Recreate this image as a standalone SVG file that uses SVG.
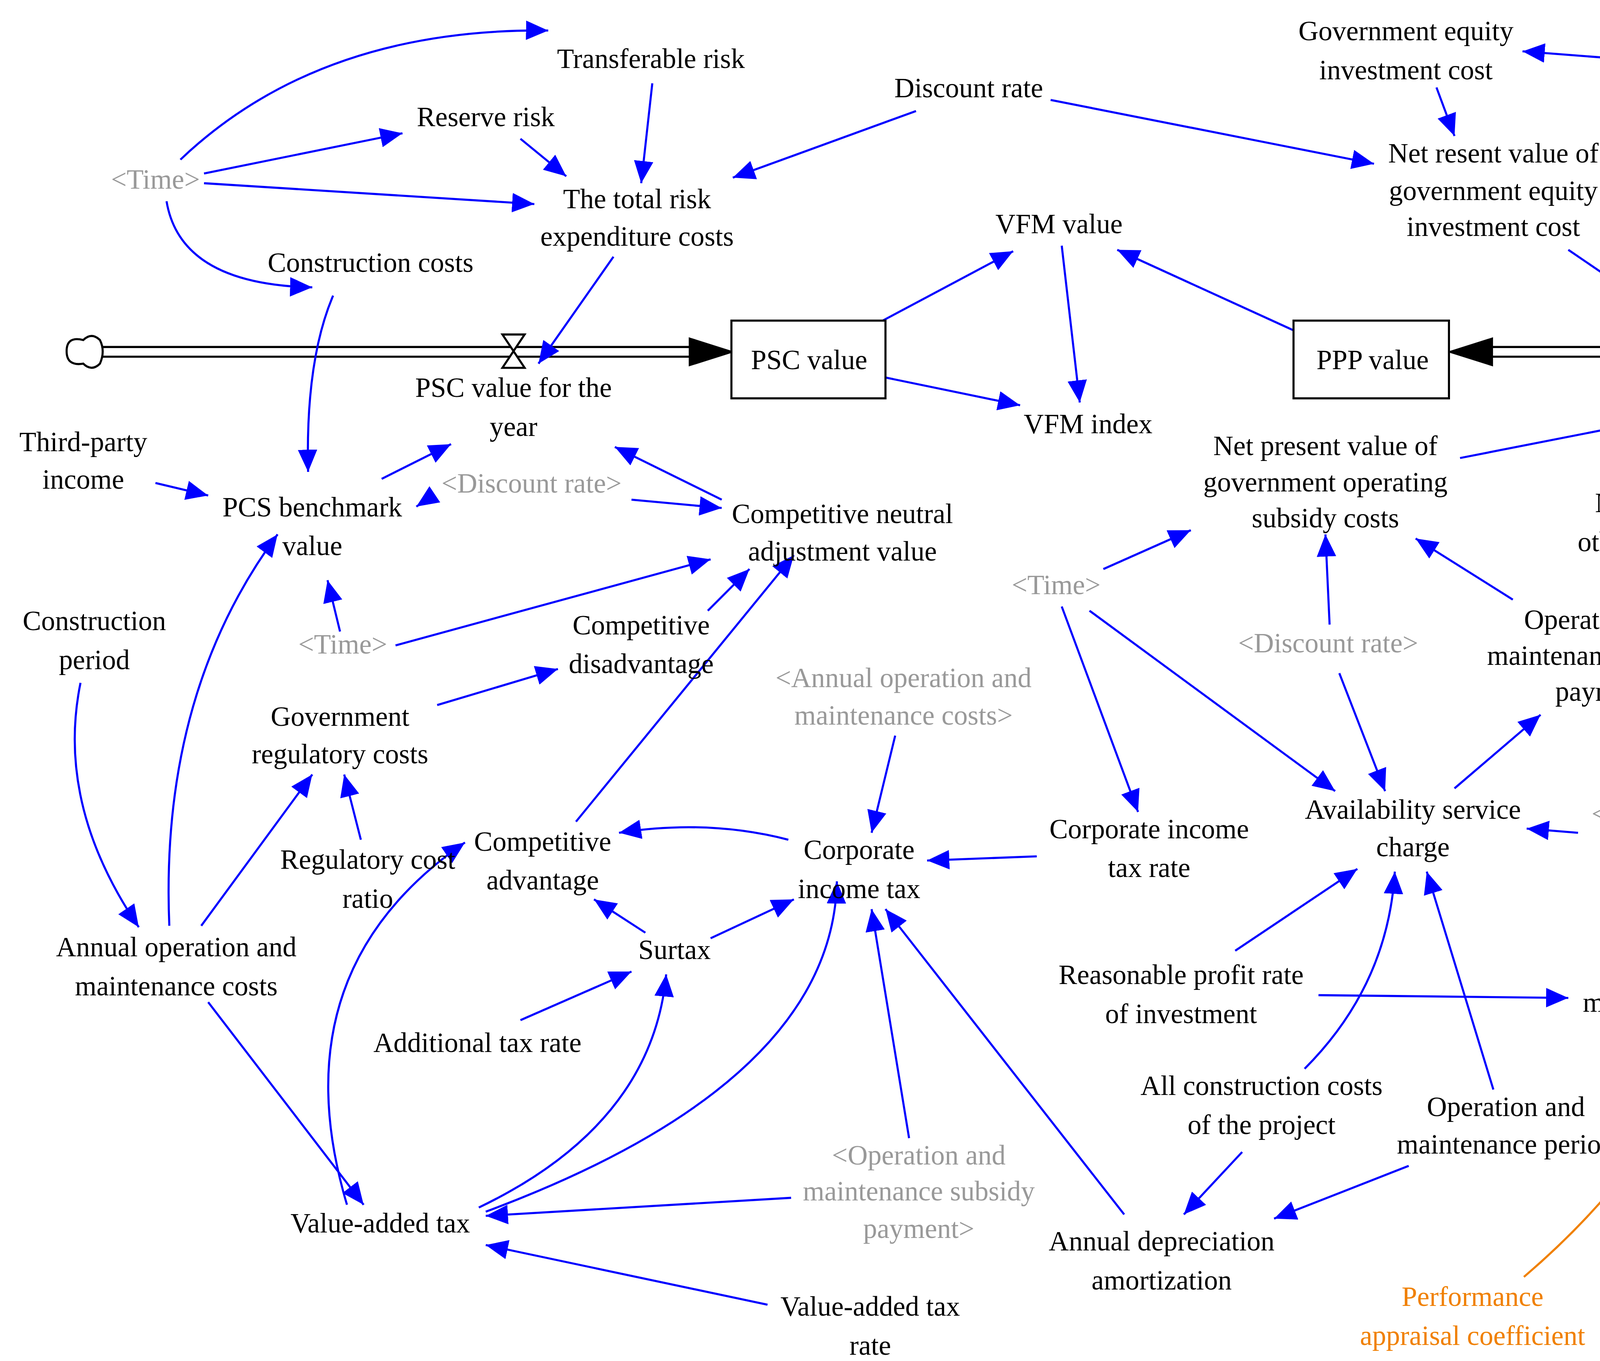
<svg xmlns="http://www.w3.org/2000/svg" width="5553" height="3484" viewBox="0 0 5553 3484">
<style>
text{font-family:"Liberation Serif","Times New Roman",serif;font-size:20px;text-anchor:middle;fill:#000}
.g{fill:#999}
.o{fill:#f08000}
.c path,.c line{fill:none;stroke:#0000ff;stroke-width:1.5}
.box{fill:#fff;stroke:#000;stroke-width:1.5}
</style>
<defs>
<marker id="a" markerUnits="userSpaceOnUse" markerWidth="18" markerHeight="14" refX="16" refY="7" orient="auto"><path d="M0,0 L16,7 L0,14 Z" fill="#0000ff"/></marker>
<marker id="ao" markerUnits="userSpaceOnUse" markerWidth="18" markerHeight="14" refX="16" refY="7" orient="auto"><path d="M0,0 L16,7 L0,14 Z" fill="#f08000"/></marker>
</defs>
<rect width="5553" height="3484" fill="#fff"/>
<g transform="scale(3.553)">
<g id="flows" fill="none" stroke="#000" stroke-width="1.5">
<path d="M74,250 H497 M74,257 H497"/>
<path d="M497,244 L527,253.5 L497,263 Z" fill="#000"/>
<path d="M1518,250 H1075 M1518,257 H1075"/>
<path d="M1075,244 L1045,253.5 L1075,263 Z" fill="#000"/>
<path d="M362,241 H378 L362,265 H378 Z" fill="#fff"/>
<path d="M1275,241 H1291 L1275,265 H1291 Z" fill="#fff"/>
<path d="M60,245 q-12,-3 -12,8 q0,11 12,9 q6,6 12,0 q4,-9 0,-17 q-6,-6 -12,0 Z" fill="#fff"/>
<path d="M1532,245 q-12,-3 -12,8 q0,11 12,9 q6,6 12,0 q4,-9 0,-17 q-6,-6 -12,0 Z" fill="#fff"/>
</g>
<g class="c" id="connectors">
<path marker-end="url(#a)" d="M130,115 Q230,20 395,22"/>
<path marker-end="url(#a)" d="M147,125 L290,96"/>
<path marker-end="url(#a)" d="M147,132 L385,147"/>
<path marker-end="url(#a)" d="M120,145 Q130,205 225,207"/>
<path marker-end="url(#a)" d="M470,60 L462,132"/>
<path marker-end="url(#a)" d="M375,100 L408,127"/>
<path marker-end="url(#a)" d="M660,80 L528,128"/>
<path marker-end="url(#a)" d="M757,72 L990,118"/>
<path marker-end="url(#a)" d="M442,185 L388,262"/>
<path marker-end="url(#a)" d="M240,213 Q220,260 222,340"/>
<path marker-end="url(#a)" d="M1240,48 L1097,37"/>
<path marker-end="url(#a)" d="M1035,63 L1048,98"/>
<path marker-end="url(#a)" d="M1240,65 L1160,99"/>
<path marker-end="url(#a)" d="M1290,65 L1330,135"/>
<path marker-end="url(#a)" d="M1130,180 L1240,255"/>
<path marker-end="url(#a)" d="M1345,167 L1440,325"/>
<path marker-end="url(#a)" d="M636,231 L730,181"/>
<path marker-end="url(#a)" d="M638,272 L735,292"/>
<path marker-end="url(#a)" d="M765,177 L778,290"/>
<path marker-end="url(#a)" d="M932,238 L805,180"/>
<path marker-end="url(#a)" d="M112,348 L150,357"/>
<path marker-end="url(#a)" d="M312,357 L300,365"/>
<path marker-end="url(#a)" d="M275,345 L325,320"/>
<path marker-end="url(#a)" d="M455,360 L520,366"/>
<path marker-end="url(#a)" d="M520,360 L443,322"/>
<path marker-end="url(#a)" d="M245,455 L236,418"/>
<path marker-end="url(#a)" d="M285,465 L512,403"/>
<path marker-end="url(#a)" d="M510,440 L540,410"/>
<path marker-end="url(#a)" d="M315,508 L402,482"/>
<path marker-end="url(#a)" d="M415,592 L572,400"/>
<path marker-end="url(#a)" d="M122,667 Q115,500 200,385"/>
<path marker-end="url(#a)" d="M145,667 L225,558"/>
<path marker-end="url(#a)" d="M260,605 L248,558"/>
<path marker-end="url(#a)" d="M58,492 Q40,580 100,668"/>
<path marker-end="url(#a)" d="M150,722 L262,868"/>
<path marker-end="url(#a)" d="M250,868 Q200,700 335,607"/>
<path marker-end="url(#a)" d="M465,672 L428,648"/>
<path marker-end="url(#a)" d="M512,676 L572,648"/>
<path marker-end="url(#a)" d="M568,605 Q510,590 446,600"/>
<path marker-end="url(#a)" d="M645,530 L628,600"/>
<path marker-end="url(#a)" d="M747,617 L668,620"/>
<path marker-end="url(#a)" d="M375,735 L455,700"/>
<path marker-end="url(#a)" d="M345,870 Q470,810 480,702"/>
<path marker-end="url(#a)" d="M350,873 Q600,780 603,635"/>
<path marker-end="url(#a)" d="M570,863 L350,876"/>
<path marker-end="url(#a)" d="M553,940 L350,897"/>
<path marker-end="url(#a)" d="M655,820 L628,655"/>
<path marker-end="url(#a)" d="M810,875 L638,655"/>
<path marker-end="url(#a)" d="M795,410 L858,382"/>
<path marker-end="url(#a)" d="M765,437 L820,585"/>
<path marker-end="url(#a)" d="M785,440 L962,570"/>
<path marker-end="url(#a)" d="M958,450 L955,385"/>
<path marker-end="url(#a)" d="M965,485 L998,570"/>
<path marker-end="url(#a)" d="M1090,432 L1020,388"/>
<path marker-end="url(#a)" d="M1048,568 L1110,515"/>
<path marker-end="url(#a)" d="M1052,330 L1205,300"/>
<path marker-end="url(#a)" d="M1137,600 L1100,597"/>
<path marker-end="url(#a)" d="M890,685 L978,626"/>
<path marker-end="url(#a)" d="M950,717 L1130,719"/>
<path marker-end="url(#a)" d="M940,770 Q1000,710 1005,628"/>
<path marker-end="url(#a)" d="M1076,785 L1028,628"/>
<path marker-end="url(#a)" d="M895,830 L853,875"/>
<path marker-end="url(#a)" d="M1015,840 L918,878"/>
<path marker-end="url(#a)" d="M1245,685 Q1260,590 1205,515"/>
<path marker-end="url(#a)" d="M1360,835 L1285,765"/>
<path marker-end="url(#a)" d="M1265,922 L1248,768"/>
<path marker-end="url(#ao)" d="M1098,920 Q1180,850 1222,765" style="stroke:#f08000"/>
<path marker-end="url(#a)" d="M1245,350 L1255,320"/>
<path marker-end="url(#a)" d="M1362,620 L1245,392"/>
<path marker-end="url(#a)" d="M1420,535 L1265,398"/>
<path marker-end="url(#a)" d="M1490,490 L1295,405"/>
<path marker-end="url(#a)" d="M1440,540 L1448,382"/>
<path marker-end="url(#a)" d="M1518,480 L1468,382"/>
<path marker-end="url(#a)" d="M1380,325 L1357,318"/>
</g>
<g id="psc"><rect class="box" x="527" y="231" width="111" height="56"/><text x="583" y="266">PSC value</text></g>
<g id="ppp"><rect class="box" x="932" y="231" width="112" height="56"/><text x="989" y="266">PPP value</text></g>
<g id="n1"><text x="469" y="49">Transferable risk</text></g>
<g id="n2"><text x="350" y="91">Reserve risk</text></g>
<g id="n3"><text class="g" x="112" y="136">&lt;Time&gt;</text></g>
<g id="n4"><text x="459" y="150">The total risk</text><text x="459" y="177">expenditure costs</text></g>
<g id="n5"><text x="698" y="70">Discount rate</text></g>
<g id="n6"><text x="1013" y="29">Government equity</text><text x="1013" y="57">investment cost</text></g>
<g id="n7"><text class="g" x="1277" y="54">&lt;Time&gt;</text></g>
<g id="n8"><text x="1076" y="117">Net resent value of</text><text x="1076" y="144">government equity</text><text x="1076" y="170">investment cost</text></g>
<g id="n9"><text x="1338" y="157">Government reserve risk</text></g>
<g id="n10"><text x="267" y="196">Construction costs</text></g>
<g id="n11"><text x="763" y="168">VFM value</text></g>
<g id="n12"><text x="370" y="286">PSC value for the</text><text x="370" y="314">year</text></g>
<g id="n13"><text x="784" y="312">VFM index</text></g>
<g id="n14"><text x="1283" y="283">PPP value for the</text><text x="1283" y="311">year</text></g>
<g id="n15"><text x="60" y="325">Third-party</text><text x="60" y="352">income</text></g>
<g id="n16"><text x="225" y="372">PCS benchmark</text><text x="225" y="400">value</text></g>
<g id="n17"><text class="g" x="383" y="355">&lt;Discount rate&gt;</text></g>
<g id="n18"><text x="607" y="377">Competitive neutral</text><text x="607" y="404">adjustment value</text></g>
<g id="n19"><text x="955" y="328">Net present value of</text><text x="955" y="354">government operating</text><text x="955" y="380">subsidy costs</text></g>
<g id="n20"><text x="1230" y="369">Net present value of</text><text x="1230" y="397">other government costs</text></g>
<g id="n21"><text x="1457" y="346">Net present value of</text><text x="1457" y="374">government reserve risk</text></g>
<g id="n22"><text class="g" x="761" y="428">&lt;Time&gt;</text></g>
<g id="n23"><text x="68" y="454">Construction</text><text x="68" y="482">period</text></g>
<g id="n24"><text class="g" x="247" y="471">&lt;Time&gt;</text></g>
<g id="n25"><text x="462" y="457">Competitive</text><text x="462" y="485">disadvantage</text></g>
<g id="n26"><text class="g" x="957" y="470">&lt;Discount rate&gt;</text></g>
<g id="n27"><text x="1155" y="453">Operation and</text><text x="1155" y="479">maintenance subsidy</text><text x="1155" y="505">payment</text></g>
<g id="n28"><text class="g" x="1525" y="503">&lt;Time&gt;</text></g>
<g id="n29"><text class="g" x="651" y="495">&lt;Annual operation and</text><text class="g" x="651" y="522">maintenance costs&gt;</text></g>
<g id="n30"><text x="245" y="523">Government</text><text x="245" y="550">regulatory costs</text></g>
<g id="n31"><text class="g" x="1441" y="560">&lt;Discount rate&gt;</text></g>
<g id="n32"><text x="1018" y="590">Availability service</text><text x="1018" y="617">charge</text></g>
<g id="n33"><text class="g" x="1204" y="593">&lt;Construction</text><text class="g" x="1204" y="620">period&gt;</text></g>
<g id="n34"><text x="391" y="613">Competitive</text><text x="391" y="641">advantage</text></g>
<g id="n35"><text x="619" y="619">Corporate</text><text x="619" y="647">income tax</text></g>
<g id="n36"><text x="828" y="604">Corporate income</text><text x="828" y="632">tax rate</text></g>
<g id="n37"><text x="265" y="626">Regulatory cost</text><text x="265" y="654">ratio</text></g>
<g id="n38"><text x="1377" y="641">Government</text><text x="1377" y="668">supporting investment</text></g>
<g id="n39"><text x="127" y="689">Annual operation and</text><text x="127" y="717">maintenance costs</text></g>
<g id="n40"><text x="486" y="691">Surtax</text></g>
<g id="n41"><text x="851" y="709">Reasonable profit rate</text><text x="851" y="737">of investment</text></g>
<g id="n42"><text x="1244" y="703">Operation and</text><text x="1244" y="729">maintenance performance</text><text x="1244" y="756">service fee</text></g>
<g id="n43"><text x="344" y="758">Additional tax rate</text></g>
<g id="n44"><text x="909" y="789">All construction costs</text><text x="909" y="817">of the project</text></g>
<g id="n45"><text x="1085" y="804">Operation and</text><text x="1085" y="831">maintenance period</text></g>
<g id="n46"><text class="g" x="662" y="839">&lt;Operation and</text><text class="g" x="662" y="865">maintenance subsidy</text><text class="g" x="662" y="892">payment&gt;</text></g>
<g id="n47"><text class="g" x="1386" y="855">&lt;Third-party</text><text class="g" x="1386" y="883">income&gt;</text></g>
<g id="n48"><text x="274" y="888">Value-added tax</text></g>
<g id="n49"><text x="837" y="901">Annual depreciation</text><text x="837" y="929">amortization</text></g>
<g id="n50"><text x="627" y="948">Value-added tax</text><text x="627" y="976">rate</text></g>
<g id="n51"><text class="o" x="1061" y="941">Performance</text><text class="o" x="1061" y="969">appraisal coefficient</text></g>
<g id="n52"><text class="g" x="1265" y="941">&lt;Annual operation and</text><text class="g" x="1265" y="969">maintenance costs&gt;</text></g>
</g>
</svg>
